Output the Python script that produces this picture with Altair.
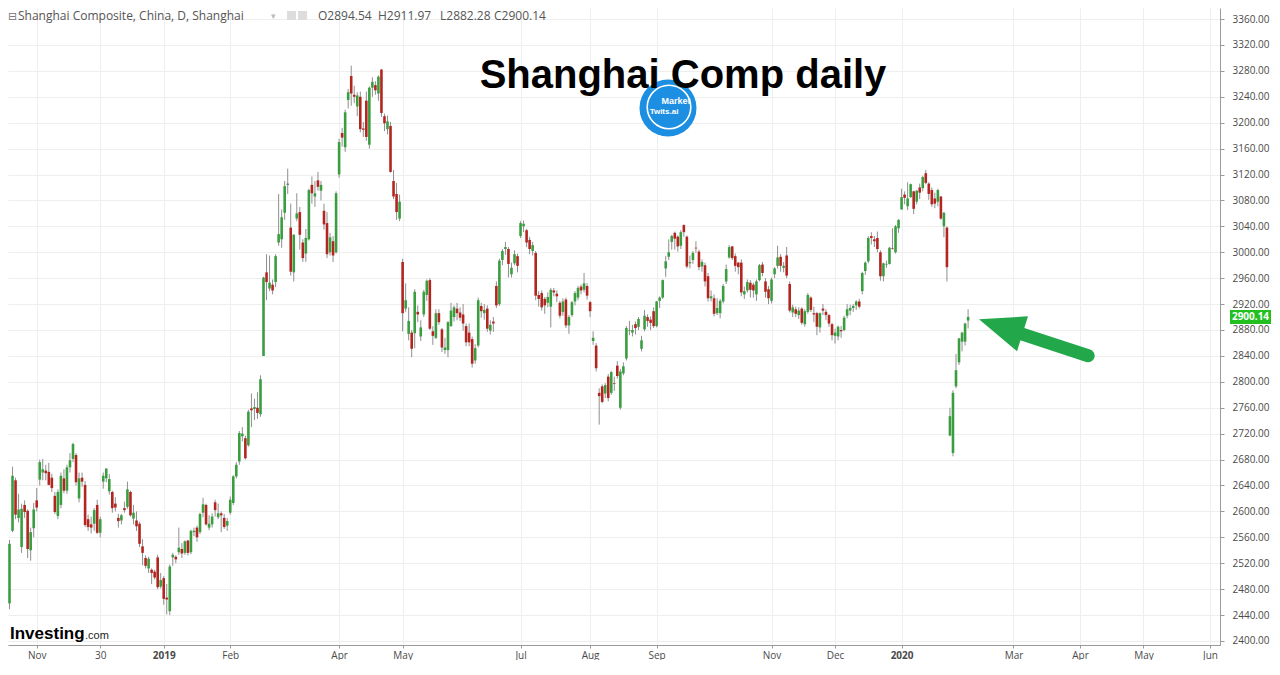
import altair as alt
import pandas as pd

# ---- OHLC data (Shanghai Composite, daily, Oct 19 2018 - Feb 11 2020), one line per month ----
opens = [
    2458, 2570, 2648, 2590, 2545, 2610, 2601, 2540, 2574,
    2617, 2649, 2660, 2663, 2661, 2652, 2624, 2593, 2610, 2651, 2632, 2668, 2681, 2687, 2620, 2652, 2641, 2588, 2580, 2581, 2610, 2567,
    2646, 2651, 2631, 2630, 2612, 2590, 2586, 2605, 2607, 2630, 2589, 2586, 2581, 2546, 2528, 2512, 2510, 2507, 2529, 2484,
    2497, 2467, 2446, 2529, 2530, 2537, 2542, 2536, 2555, 2537, 2568, 2575, 2568, 2598, 2610, 2575, 2580, 2614, 2591, 2597, 2590, 2578,
    2598, 2613, 2654, 2677, 2716, 2713, 2702, 2759, 2758, 2760, 2750, 2840, 2969, 2944, 2950,
    2954, 3015, 3020, 3061, 3104, 3038, 2969, 3052, 3062, 3015, 2998, 3020, 3104, 3086, 3111, 3095, 3064, 3045, 3000, 3017, 3000,
    3120, 3184, 3162, 3235, 3272, 3243, 3225, 3240, 3191, 3234, 3166, 3254, 3258, 3245, 3282, 3210, 3190, 3195, 3110, 3090, 3052,
    2985, 2913, 2874, 2876, 2875, 2908, 2870, 2904, 2934, 2957, 2878, 2868, 2906, 2881, 2849, 2849, 2886, 2900, 2913, 2907,
    2904, 2886, 2876, 2866, 2833, 2856, 2917, 2906, 2913, 2879, 2893, 2948, 2920, 2988, 3005, 3005, 2966, 2983, 2994,
    3025, 3040, 3034, 3019, 3002, 2999, 2934, 2937, 2928, 2922, 2916, 2941, 2936, 2922, 2908, 2927, 2887, 2903, 2924, 2930, 2947, 2942, 2948,
    2923, 2863, 2856, 2783, 2793, 2782, 2808, 2783, 2798, 2825, 2760, 2813, 2836, 2879, 2876, 2889, 2885, 2851, 2881, 2900, 2896, 2909,
    2886, 2925, 2930, 2975, 2993, 3016, 3030, 3024, 3010, 3042, 3024, 2983, 2988, 3007, 3001, 2978, 2980, 2963, 2929, 2929,
    2906, 2906, 2924, 2955, 2992, 3009, 2994, 2984, 2984, 2935, 2941, 2953, 2950, 2935, 2957, 2981, 2955, 2943,
    2925, 2966, 2979, 2993, 2976, 2995, 2951, 2907, 2912, 2903, 2913, 2889, 2908, 2930, 2906, 2906, 2884, 2913, 2908, 2903, 2889,
    2871, 2870, 2880, 2880, 2902, 2910, 2914, 2918, 2924, 2940, 2971, 2986, 3025, 3020, 3022, 3000, 2963, 2981, 2982, 3006, 3000, 3037,
    3066, 3089, 3071, 3085, 3094, 3078, 3100, 3099, 3122, 3106, 3096, 3083, 3078, 3086, 3040, 3038,
    2717, 2690, 2793, 2830, 2862, 2862, 2894.54,
]
highs = [
    2556, 2669, 2652, 2627, 2612, 2617, 2603, 2575, 2613,
    2636, 2680, 2681, 2672, 2675, 2658, 2630, 2634, 2660, 2665, 2672, 2690, 2706, 2690, 2660, 2660, 2647, 2595, 2592, 2605, 2618, 2592,
    2660, 2667, 2658, 2632, 2622, 2596, 2596, 2615, 2646, 2632, 2610, 2600, 2584, 2557, 2532, 2530, 2512, 2510, 2533, 2505,
    2500, 2488, 2518, 2536, 2532, 2575, 2551, 2555, 2556, 2572, 2575, 2578, 2598, 2621, 2612, 2594, 2597, 2618, 2612, 2600, 2596, 2590,
    2623, 2656, 2676, 2724, 2730, 2717, 2757, 2782, 2774, 2784, 2810, 2962, 2997, 2995, 2958,
    2997, 3090, 3066, 3110, 3129, 3075, 3028, 3091, 3070, 3020, 3036, 3098, 3117, 3110, 3124, 3110, 3075, 3062, 3030, 3025, 3094,
    3175, 3192, 3220, 3252, 3288, 3257, 3247, 3248, 3201, 3248, 3256, 3270, 3264, 3273, 3283, 3214, 3211, 3201, 3127, 3107, 3089,
    2990, 2952, 2915, 2880, 2943, 2918, 2895, 2942, 2958, 2960, 2886, 2912, 2912, 2883, 2868, 2894, 2922, 2918, 2922, 2915,
    2920, 2890, 2890, 2870, 2858, 2930, 2922, 2920, 2918, 2895, 2900, 2955, 2990, 3005, 3016, 3008, 2984, 3003, 2998,
    3048, 3049, 3036, 3024, 3016, 3002, 2940, 2941, 2931, 2938, 2945, 2945, 2941, 2925, 2929, 2930, 2903, 2925, 2940, 2948, 2950, 2968, 2952,
    2925, 2878, 2860, 2790, 2796, 2798, 2812, 2817, 2808, 2832, 2820, 2830, 2886, 2894, 2888, 2893, 2900, 2871, 2911, 2904, 2901, 2915,
    2925, 2932, 2958, 2994, 3020, 3027, 3032, 3026, 3034, 3043, 3026, 2995, 3002, 3017, 3004, 2989, 2984, 2968, 2941, 2935,
    2929, 2928, 2951, 2981, 3011, 3010, 2998, 2985, 2989, 2947, 2958, 2957, 2953, 2958, 2982, 2985, 2960, 2948,
    2961, 2977, 3010, 2997, 2985, 3008, 2955, 2919, 2916, 2915, 2915, 2912, 2937, 2932, 2916, 2908, 2907, 2920, 2912, 2905, 2891,
    2882, 2887, 2886, 2902, 2920, 2919, 2920, 2926, 2928, 2970, 2986, 3025, 3031, 3025, 3032, 3003, 2984, 2987, 3008, 3037, 3042, 3051,
    3098, 3094, 3108, 3106, 3095, 3096, 3106, 3118, 3127, 3108, 3100, 3092, 3098, 3087, 3062, 3040,
    2760, 2787, 2843, 2868, 2877, 2891, 2911.97,
]
lows = [
    2449, 2568, 2588, 2583, 2536, 2590, 2528, 2524, 2560,
    2600, 2640, 2648, 2648, 2640, 2630, 2596, 2588, 2605, 2628, 2627, 2660, 2676, 2640, 2614, 2638, 2576, 2570, 2566, 2570, 2565, 2560,
    2635, 2645, 2626, 2598, 2600, 2575, 2580, 2598, 2604, 2592, 2580, 2570, 2545, 2517, 2512, 2505, 2488, 2495, 2480, 2481,
    2456, 2441, 2440, 2516, 2520, 2533, 2528, 2533, 2532, 2534, 2562, 2553, 2565, 2591, 2578, 2571, 2575, 2592, 2588, 2568, 2573, 2570,
    2595, 2610, 2651, 2672, 2708, 2680, 2700, 2730, 2741, 2743, 2746, 2840, 2926, 2940, 2935,
    2946, 3010, 3007, 3050, 3090, 2964, 2955, 3048, 3004, 2985, 2985, 3018, 3075, 3070, 3095, 3080, 3035, 2991, 2995, 2985, 2998,
    3115, 3163, 3155, 3222, 3226, 3230, 3210, 3185, 3178, 3172, 3160, 3240, 3243, 3234, 3209, 3187, 3182, 3123, 3082, 3050, 3048,
    2878, 2908, 2864, 2838, 2852, 2892, 2863, 2900, 2925, 2880, 2857, 2866, 2888, 2846, 2843, 2838, 2885, 2893, 2895, 2894,
    2879, 2855, 2855, 2822, 2828, 2853, 2899, 2896, 2877, 2873, 2877, 2914, 2917, 2980, 2996, 2961, 2961, 2980, 2969,
    3022, 3031, 3008, 2997, 2995, 2926, 2916, 2910, 2905, 2915, 2884, 2932, 2923, 2898, 2902, 2883, 2874, 2900, 2918, 2926, 2935, 2938, 2927,
    2900, 2857, 2816, 2734, 2767, 2775, 2770, 2780, 2786, 2805, 2757, 2810, 2833, 2872, 2870, 2873, 2880, 2847, 2878, 2885, 2880, 2883,
    2884, 2914, 2928, 2962, 2988, 3004, 3004, 3001, 3005, 3024, 2975, 2975, 2982, 2999, 2972, 2970, 2947, 2924, 2924, 2901,
    2903, 2898, 2921, 2951, 2990, 2988, 2970, 2966, 2932, 2928, 2938, 2930, 2930, 2925, 2955, 2963, 2930, 2920,
    2921, 2960, 2975, 2970, 2969, 2960, 2907, 2900, 2900, 2897, 2888, 2885, 2905, 2908, 2892, 2872, 2876, 2903, 2895, 2885, 2864,
    2859, 2864, 2868, 2878, 2898, 2903, 2908, 2911, 2913, 2935, 2965, 2983, 3012, 3008, 3000, 2956, 2955, 2976, 2981, 3004, 2998, 3030,
    3066, 3074, 3065, 3084, 3059, 3074, 3082, 3094, 3105, 3081, 3070, 3068, 3071, 3050, 3023, 2955,
    2716, 2685, 2790, 2826, 2847, 2856, 2882.28,
]
closes = [
    2550, 2655, 2595, 2603, 2604, 2599, 2542, 2568, 2603,
    2606, 2676, 2665, 2659, 2641, 2636, 2599, 2630, 2655, 2632, 2668, 2679, 2704, 2645, 2651, 2646, 2579, 2576, 2575, 2602, 2567, 2588,
    2655, 2666, 2650, 2605, 2606, 2585, 2594, 2602, 2634, 2594, 2598, 2577, 2550, 2536, 2516, 2527, 2505, 2498, 2483, 2494,
    2465, 2464, 2515, 2533, 2526, 2544, 2535, 2554, 2536, 2570, 2570, 2560, 2596, 2611, 2580, 2581, 2592, 2602, 2597, 2594, 2576, 2585,
    2618, 2654, 2672, 2721, 2720, 2682, 2754, 2756, 2761, 2752, 2804, 2961, 2954, 2953, 2941,
    2994, 3028, 3054, 3102, 3106, 2970, 3027, 3060, 3027, 2991, 3022, 3096, 3091, 3091, 3101, 3104, 3043, 2997, 3023, 2995, 3091,
    3170, 3177, 3216, 3247, 3245, 3240, 3242, 3190, 3189, 3178, 3254, 3263, 3250, 3271, 3215, 3199, 3202, 3124, 3086, 3062, 3078,
    2906, 2926, 2894, 2851, 2939, 2904, 2884, 2939, 2956, 2882, 2871, 2906, 2892, 2853, 2853, 2892, 2910, 2915, 2906, 2899,
    2890, 2861, 2861, 2828, 2852, 2926, 2909, 2911, 2882, 2888, 2890, 2918, 2987, 3002, 3008, 2982, 2976, 2997, 2979,
    3045, 3044, 3015, 3005, 3011, 2933, 2928, 2915, 2918, 2931, 2942, 2938, 2932, 2902, 2924, 2887, 2900, 2923, 2937, 2945, 2941, 2952, 2933,
    2909, 2868, 2821, 2778, 2769, 2795, 2775, 2815, 2797, 2809, 2816, 2824, 2883, 2880, 2880, 2883, 2897, 2864, 2902, 2894, 2891, 2886,
    2924, 2930, 2957, 2986, 3000, 3025, 3021, 3009, 3031, 3031, 2978, 2985, 2999, 3006, 2977, 2985, 2955, 2929, 2932, 2905,
    2914, 2925, 2948, 2974, 3008, 2991, 2979, 2977, 2938, 2940, 2954, 2942, 2941, 2955, 2980, 2968, 2939, 2929,
    2958, 2975, 2992, 2979, 2979, 2964, 2910, 2915, 2905, 2910, 2891, 2909, 2934, 2911, 2904, 2885, 2906, 2910, 2903, 2890, 2872,
    2876, 2885, 2878, 2899, 2912, 2914, 2917, 2924, 2916, 2968, 2984, 3022, 3022, 3017, 3005, 2963, 2983, 2982, 3007, 3005, 3040, 3050,
    3085, 3084, 3083, 3105, 3067, 3095, 3092, 3116, 3107, 3090, 3074, 3075, 3096, 3052, 3061, 2977,
    2747, 2783, 2818, 2867, 2876, 2890, 2900.14,
]

# x-axis ticks (trading-day index) and labels
tick_idx = [9, 30, 51, 73, 109, 130, 169, 192, 214, 252, 273, 295, 332, 354, 375, 397]
tick_lab = ["Nov", "30", "2019", "Feb", "Apr", "May", "Jul", "Aug", "Sep", "Nov", "Dec", "2020",
            "Mar", "Apr", "May", "Jun"]
y_ticks = list(range(2400, 3361, 40))

last_price = 2900.14
header_name = "Shanghai Composite, China, D, Shanghai"
header_ohlc = ["O2894.54", "H2911.97", "L2882.28", "C2900.14"]

UP = "#3a9d40"
DOWN = "#b22620"
WICK = "#8f8f8f"
GRID = "#eeeeee"
AXC = "#9a9a9a"
LAB = "#4a4a4a"
ARROW = "#22a84a"

W, H = 1212, 637

df = pd.DataFrame({"i": list(range(len(closes))), "open": opens, "high": highs,
                   "low": lows, "close": closes})
df["dir"] = ["up" if c >= o else "down" for o, c in zip(opens, closes)]

label_expr = "".join(f"datum.value == {i} ? '{l}' : " for i, l in zip(tick_idx, tick_lab)) + "''"
year_test = " || ".join(f"datum.value == {i}" for i, l in zip(tick_idx, tick_lab) if len(l) == 4)

x_axis = alt.Axis(title=None, values=tick_idx, labelExpr=label_expr, grid=True, gridColor=GRID,
                  domainColor=AXC, tickColor=AXC, tickSize=3, labelPadding=2, labelFontSize=10,
                  labelFont="Open Sans", labelColor=LAB, labelOverlap=False, labelFlush=False,
                  labelBound=False,
                  labelFontWeight={"condition": {"test": year_test, "value": "bold"}, "value": "normal"})
y_axis = alt.Axis(title=None, orient="right", values=y_ticks, format=".2f", grid=True, gridColor=GRID,
                  domainColor=AXC, tickColor=AXC, tickSize=4, labelPadding=8, labelFontSize=10,
                  labelFont="Open Sans", labelColor=LAB, labelOverlap=False, labelFlush=False,
                  labelBound=False)
xs = alt.Scale(domain=[-0.496, 400.3], nice=False, zero=False, padding=0)
ys = alt.Scale(domain=[2393.8, 3377.0], nice=False, zero=False)


def X(f):
    return alt.X(f"{f}:Q", scale=xs, axis=x_axis)


def Y(f):
    return alt.Y(f"{f}:Q", scale=ys, axis=y_axis)


wicks = alt.Chart(df).mark_rule(color=WICK, strokeWidth=1).encode(x=X("i"), y=Y("low"), y2="high")
bodies = alt.Chart(df).mark_bar(size=2.6).encode(
    x=X("i"), y=Y("open"), y2="close",
    color=alt.Color("dir:N", scale=alt.Scale(domain=["up", "down"], range=[UP, DOWN]), legend=None))

# arrow annotation (data coordinates)
shaft_df = pd.DataFrame({"x1": [356.7], "y1": [2840.3], "x2": [334.9], "y2": [2873.6]})
shaft = alt.Chart(shaft_df).mark_rule(color=ARROW, strokeWidth=13, strokeCap="round").encode(
    x=X("x1"), y=Y("y1"), x2="x2", y2="y2")
head_df = pd.DataFrame({"i": [320.6], "p": [2896.4]})
head = alt.Chart(head_df).mark_point(shape="M0,0 L49,-3 L38,32 Z", size=4, filled=True,
                                     color=ARROW, opacity=1, strokeWidth=0).encode(x=X("i"), y=Y("p"))


def txt(t, x, y, size, color="#000000", weight="normal", font="Open Sans", align="left",
        baseline="alphabetic"):
    return alt.Chart(pd.DataFrame({"t": [t]})).mark_text(
        align=align, baseline=baseline, fontSize=size, fontWeight=weight, font=font, color=color
    ).encode(text="t:N", x=alt.value(x), y=alt.value(y))


def box(x, x2, y, y2, color):
    return alt.Chart(pd.DataFrame({"t": [0]})).mark_rect(color=color).encode(
        x=alt.value(x), x2=alt.value(x2), y=alt.value(y), y2=alt.value(y2))


def dot(x, y, size, fill, stroke=None, sw=0):
    kw = dict(shape="circle", size=size, opacity=1)
    if stroke:
        m = alt.Chart(pd.DataFrame({"t": [0]})).mark_point(filled=False, color=stroke, strokeWidth=sw, **kw)
    else:
        m = alt.Chart(pd.DataFrame({"t": [0]})).mark_point(filled=True, color=fill, **kw)
    return m.encode(x=alt.value(x), y=alt.value(y))


layers = [wicks, bodies, shaft, head]

# header line
layers += [txt("⊟", 0, 12, 11, color="#777777", font="DejaVu Sans"),
           txt(header_name, 10, 12, 12, color="#555555"),
           txt("▾", 263, 11, 9, color="#bbbbbb", font="DejaVu Sans"),
           box(279, 288, 3, 12, "#dddddd"), box(290, 299, 3, 12, "#dddddd")]
for s, xx in zip(header_ohlc, [310, 370, 432, 486]):
    layers.append(txt(s, xx, 12, 12, color="#555555"))

# logo + title
layers += [dot(660, 100, 3250, "#1d8fe2"),
           dot(661, 99, 1900, None, stroke="#ffffff", sw=1.6),
           txt("Market", 668, 96, 9, color="#ffffff", weight="bold", font="Liberation Sans", align="center"),
           txt("Twits.ai", 656, 106, 8, color="#ffffff", weight="bold", font="Liberation Sans", align="center"),
           txt("Shanghai Comp daily", 675, 80, 40, weight="bold", font="Liberation Sans", align="center")]

# Investing.com logo
layers += [txt("Investing", 2, 631, 17, weight="bold", font="Liberation Sans"),
           txt(".com", 77, 631, 11, color="#222222", font="Liberation Sans")]

# last price tag (text placed on the price scale)
tag_df = pd.DataFrame({"p": [last_price], "t": [f"{last_price:.2f}"]})
tag_box = box(W + 10, W + 51, 302, 316, "#22c01f")
tag_txt = alt.Chart(tag_df).mark_text(align="center", baseline="middle", fontSize=10,
                                       fontWeight="bold", font="Open Sans", color="#ffffff").encode(
    text="t:N", x=alt.value(W + 30.5), y=Y("p"))
layers += [tag_box, tag_txt]

chart = alt.layer(*layers).properties(width=W, height=H, padding=0, background="white") \
    .configure_view(strokeWidth=0)

chart.save("out.html", embed_options={"renderer": "svg", "actions": False})
